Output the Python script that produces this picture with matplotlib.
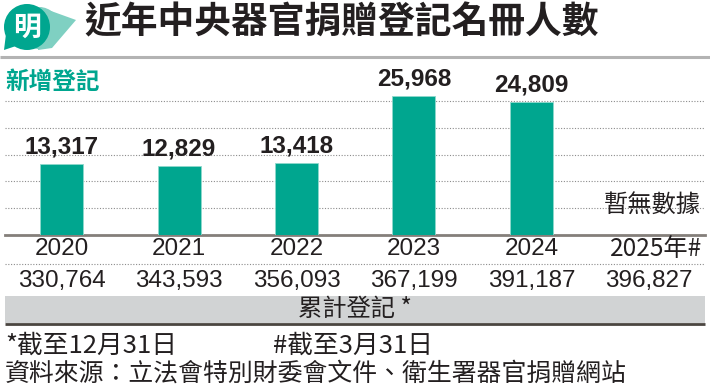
"""近年中央器官捐贈登記名冊人數 — 柱狀圖重繪。"""
import matplotlib
matplotlib.use("Agg")
import matplotlib.pyplot as plt
from matplotlib import transforms
from matplotlib.patches import Circle, Polygon, Rectangle

# 數據
years = ["2020", "2021", "2022", "2023", "2024", "2025年#"]
new_reg = [13317, 12829, 13418, 25968, 24809]          # 新增登記（2025 暫無數據）
cum_reg = [330764, 343593, 356093, 367199, 391187, 396827]  # 累計登記
grid_vals = [5000, 10000, 15000, 20000, 25000]

title = "近年中央器官捐贈登記名冊人數"
note1 = "*截至12月31日"
note2 = "#截至3月31日"
source = "資料來源：立法會特別財委會文件、衛生署器官捐贈網站"

TEAL = "#00a68f"
TEAL_LIGHT = "#7fd0c2"
INK = "#231f20"
CJK = ["Noto Sans CJK TC", "DejaVu Sans"]
LAT = ["Liberation Sans", "DejaVu Sans"]

W, H = 710, 386
fig = plt.figure(figsize=(W / 100, H / 100), dpi=100)
fig.patch.set_facecolor("white")

# 主圖（基線在 y=235px）
ax = fig.add_axes([5 / W, (H - 235) / H, 700 / W, 175 / H])
ax.set_xlim(-0.481, 5.477)
ax.set_ylim(0, 32650)
x = list(range(len(new_reg)))
ax.bar(x, new_reg, width=0.366, color=TEAL, edgecolor="#8fd9cc", linewidth=0.6, zorder=3)
for xi, v in zip(x, new_reg):
    ax.annotate(f"{v:,}", (xi, v), xytext=(0, 7.5), textcoords="offset points",
                ha="center", va="baseline", fontsize=17.5, fontweight="bold",
                family=LAT, color=INK, zorder=4)
ax.text(5.03, 5400, "暫無數據", ha="center", va="center", fontsize=17.5,
        family=CJK, color=INK)

ax.set_yticks(grid_vals)
ax.set_xticks([])
ax.tick_params(axis="y", length=0, labelleft=False)
ax.grid(axis="y", color="#8c8c8c", linestyle=(0, (1, 1.5)), linewidth=0.8, zorder=0)
for s in ["top", "left", "right"]:
    ax.spines[s].set_visible(False)
ax.spines["bottom"].set_color("#847f7a")
ax.spines["bottom"].set_linewidth(2)
ax.patch.set_alpha(0)

# 年份及累計數字（x 用數據座標，y 用圖像座標）
tr = transforms.blended_transform_factory(ax.transData, fig.transFigure)
for i, (yr, c) in enumerate(zip(years, cum_reg)):
    xl = i + (0.06 if i == 5 else 0)
    ax.text(xl, 1 - 249 / H, yr, transform=tr, ha="center", va="center",
            fontsize=17.5, family=LAT if i < 5 else CJK[:1] + LAT, color=INK, clip_on=False)
    ax.text(i, 1 - 281 / H, f"{c:,}", transform=tr, ha="center", va="center",
            fontsize=17.5, family=LAT, color=INK, clip_on=False)

# 覆蓋層：以像素座標畫裝飾
ov = fig.add_axes([0, 0, 1, 1], zorder=5)
ov.set_xlim(0, W)
ov.set_ylim(H, 0)
ov.axis("off")
ov.patch.set_alpha(0)

# 標誌
ov.add_patch(Polygon([[40, 7], [76, 20], [52, 48], [38, 50]], closed=True,
                     color=TEAL_LIGHT, lw=0))
ov.add_patch(Circle((39, 28), 21, color=TEAL_LIGHT, lw=0))
ov.add_patch(Circle((27, 27), 23, color=TEAL, lw=0))
ov.add_patch(Polygon([[6, 34], [16, 46], [4, 50]], closed=True, color=TEAL, lw=0))
ov.text(27, 28, "明", ha="center", va="center", fontsize=20, fontweight="bold",
        family=CJK, color="white")

ov.text(84, 23, title, ha="left", va="center", fontsize=26.5, fontweight="bold",
        family=CJK, color=INK)
ov.plot([0, W], [57, 57], color="#b3b3b3", lw=2.2, solid_capstyle="butt")

ov.text(5, 82, "新增登記", ha="left", va="center", fontsize=17, fontweight="bold",
        family=CJK, color=TEAL)

# 年份與累計之間的虛線
ov.plot([5, 705], [264, 264], color="#8c8c8c", linestyle=(0, (1, 1.5)), lw=0.8)
# 累計登記灰色條
ov.add_patch(Rectangle((5, 296), 700, 27, color="#d1d3d4", lw=0))
ov.plot([5, 705], [324, 324], color="#4a4540", lw=2, solid_capstyle="butt")
ov.text(355, 309, "累計登記 *", ha="center", va="center", fontsize=17.5,
        family=CJK, color=INK)

# 註腳
ov.text(5, 346, note1, ha="left", va="center", fontsize=18.5, family=CJK, color=INK)
ov.text(273, 346, note2, ha="left", va="center", fontsize=18.5, family=CJK, color=INK)
ov.text(5, 374, source, ha="left", va="center", fontsize=17.9, family=CJK, color=INK)

fig.savefig("out.png", dpi=100)
plt.close(fig)
